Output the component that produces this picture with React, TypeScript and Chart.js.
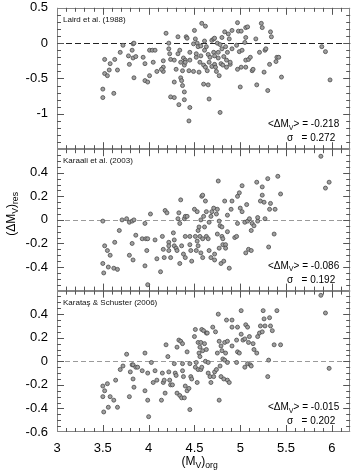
import React, { useEffect, useRef } from "react";
import { Chart, registerables } from "chart.js";

Chart.register(...registerables);

// ---- data: [Mv_org, dMv_res] ----
const lairdPoints: [number, number][] = [
  [3.50,-0.65],[3.50,-0.77],[3.62,-0.71],[3.52,-0.23],[3.58,-0.29],[3.63,-0.23],[3.52,-0.43],[3.55,-0.46],[3.57,-0.38],[3.66,-0.38],
  [3.69,-0.13],[3.72,-0.03],[3.78,-0.18],[3.79,-0.30],[3.82,-0.10],[3.83,-0.01],[3.84,0.00],[3.83,-0.21],[3.86,-0.19],[3.84,-0.49],
  [3.96,-0.29],[3.94,-0.20],[3.96,-0.53],[3.99,-0.55],[4.01,-0.46],[4.01,-0.10],[4.04,-0.10],[4.07,-0.10],[4.05,-0.27],[4.09,-0.40],
  [4.16,-0.25],[4.19,0.14],[4.16,-0.40],[4.16,-0.34],[4.14,-0.37],[4.22,0.00],[4.22,-0.08],[4.23,-0.15],[4.24,-0.23],[4.28,-0.24],
  [4.30,-0.37],[4.28,-0.55],[4.32,0.09],[4.32,-0.15],[4.34,-0.10],[4.35,-0.27],[4.35,-0.49],[4.36,-0.53],[4.37,-0.39],[4.38,-0.21],
  [4.40,-0.24],[4.41,0.09],[4.42,0.07],[4.39,-0.31],[4.40,-0.27],[4.24,-0.76],[4.28,-0.77],[4.33,-0.87],[4.39,-0.69],[4.39,-0.80],
  [4.37,-0.60],[4.44,-0.39],[4.45,-0.91],[4.44,-1.10],[4.45,-0.13],[4.45,-0.24],[4.50,0.18],[4.49,-0.01],[4.49,-0.40],[4.51,0.06],
  [4.52,-0.20],[4.52,-0.15],[4.53,0.00],[4.54,-0.05],[4.55,-0.41],[4.56,-0.27],[4.57,-0.18],[4.57,-0.04],[4.58,0.28],[4.60,-0.58],
  [4.60,-0.31],[4.61,0.03],[4.61,-0.10],[4.62,-0.34],[4.62,0.24],[4.63,-0.05],[4.64,-0.39],[4.65,-0.16],[4.65,-0.59],[4.66,-0.27],
  [4.66,-0.79],[4.67,-0.20],[4.69,0.04],[4.69,-0.33],[4.71,0.06],[4.71,-0.13],[4.72,0.07],[4.72,-0.18],[4.72,-0.30],[4.73,-0.34],
  [4.74,-0.40],[4.75,0.00],[4.76,-0.13],[4.76,-0.21],[4.77,-0.46],[4.78,-0.98],[4.78,-0.02],[4.79,-0.29],[4.80,0.08],[4.80,-0.08],
  [4.81,-0.31],[4.82,-0.19],[4.83,0.16],[4.84,-0.05],[4.85,-0.24],[4.85,-0.34],[4.86,-0.13],[4.87,0.13],[4.88,0.06],[4.89,-0.30],
  [4.89,-0.27],[4.91,0.18],[4.91,-0.08],[4.96,-0.03],[4.97,0.29],[4.97,-0.37],[4.98,0.17],[4.99,-0.12],[5.00,-0.62],[5.01,0.17],
  [5.01,-0.34],[5.02,-0.10],[5.05,0.01],[5.06,-0.34],[5.06,0.08],[5.06,0.22],[5.06,-0.24],[5.08,0.23],[5.09,-0.23],[5.11,-0.20],
  [5.13,-0.39],[5.14,-0.37],[5.17,0.06],[5.18,-0.59],[5.21,-0.13],[5.23,0.28],[5.24,0.22],[5.26,-0.41],[5.27,-0.10],[5.28,-0.08],
  [5.30,-0.67],[5.32,-0.30],[5.33,0.16],[5.34,0.09],[5.39,-0.26],[5.40,-0.20],[5.42,-0.20],[5.45,-0.48],[5.89,-0.05],[5.93,-0.12],
  [5.98,-0.52],
];

const karaaliPoints: [number, number][] = [
  [3.50,-0.01],[3.52,-0.22],[3.50,-0.37],[3.51,-0.45],[3.55,-0.26],[3.58,-0.30],[3.56,-0.40],[3.62,-0.41],[3.66,-0.42],[3.63,-0.19],
  [3.68,-0.09],[3.71,0.00],[3.76,0.01],[3.79,-0.02],[3.82,-0.01],[3.84,0.00],[3.79,-0.30],[3.82,-0.20],[3.83,-0.34],[3.86,-0.13],
  [3.93,-0.16],[3.96,-0.03],[3.96,-0.39],[3.97,-0.16],[3.99,-0.16],[3.98,-0.26],[3.99,-0.55],[4.02,0.05],[4.07,-0.17],[4.09,-0.33],
  [4.13,-0.44],[4.15,-0.14],[4.16,-0.25],[4.17,-0.32],[4.18,0.08],[4.20,0.06],[4.24,-0.32],[4.22,-0.19],[4.22,-0.22],[4.22,-0.26],
  [4.27,-0.11],[4.28,-0.17],[4.28,-0.22],[4.30,-0.24],[4.31,-0.26],[4.32,0.01],[4.33,0.06],[4.34,-0.03],[4.34,-0.37],[4.35,0.17],
  [4.36,-0.22],[4.38,-0.29],[4.39,0.01],[4.40,0.03],[4.40,-0.14],[4.40,-0.32],[4.42,0.03],[4.45,-0.21],[4.46,-0.26],[4.47,-0.35],
  [4.45,-0.14],[4.50,0.09],[4.51,-0.14],[4.52,-0.26],[4.53,-0.18],[4.53,0.07],[4.54,-0.09],[4.54,-0.22],[4.55,-0.06],[4.56,-0.14],
  [4.57,-0.28],[4.57,0.00],[4.58,0.20],[4.59,-0.16],[4.59,-0.32],[4.59,0.21],[4.60,0.03],[4.61,-0.06],[4.62,0.16],[4.63,-0.14],
  [4.63,0.07],[4.65,-0.16],[4.66,-0.02],[4.66,-0.26],[4.68,0.03],[4.68,-0.32],[4.69,0.07],[4.71,0.10],[4.72,-0.34],[4.72,-0.29],
  [4.74,0.05],[4.75,-0.12],[4.75,0.09],[4.76,0.33],[4.77,-0.01],[4.77,-0.24],[4.78,-0.05],[4.79,-0.37],[4.80,-0.14],[4.80,-0.06],
  [4.81,-0.21],[4.81,-0.16],[4.82,-0.35],[4.83,0.16],[4.84,-0.21],[4.84,-0.24],[4.86,0.04],[4.86,-0.10],[4.88,-0.41],[4.91,0.16],
  [4.90,0.09],[4.94,-0.15],[4.96,-0.14],[4.97,-0.03],[4.97,0.20],[4.99,0.23],[5.00,0.10],[5.02,0.29],[5.02,0.07],[5.05,-0.02],
  [5.06,-0.28],[5.07,0.13],[5.08,-0.01],[5.09,-0.25],[5.10,0.01],[5.12,-0.26],[5.12,-0.09],[5.13,-0.03],[5.15,-0.05],[5.18,0.32],
  [5.19,-0.01],[5.19,0.02],[5.22,0.16],[5.24,0.21],[5.24,0.28],[5.26,0.15],[5.27,0.01],[5.30,0.35],[5.31,-0.23],[5.32,0.09],
  [5.33,0.14],[5.37,-0.12],[5.38,0.09],[5.41,0.37],[5.44,0.22],[5.88,0.54],[5.93,0.27],[5.97,0.32],
];

const karatasPoints: [number, number][] = [
  [3.50,-0.21],[3.52,-0.25],[3.50,-0.30],[3.55,-0.19],[3.51,-0.43],[3.56,-0.39],[3.58,-0.30],[3.62,-0.33],[3.64,-0.16],[3.66,-0.39],
  [3.69,-0.07],[3.72,-0.04],[3.76,0.06],[3.79,-0.30],[3.80,-0.09],[3.82,-0.03],[3.83,-0.03],[3.83,-0.15],[3.84,-0.22],[3.86,-0.05],
  [3.88,-0.05],[3.93,-0.08],[3.96,0.07],[3.96,-0.25],[3.99,-0.10],[3.99,-0.33],[4.00,-0.47],[4.03,-0.01],[4.05,-0.18],[4.07,-0.08],
  [4.09,-0.16],[4.14,-0.33],[4.15,-0.10],[4.16,-0.18],[4.17,-0.16],[4.18,-0.27],[4.19,0.14],[4.21,0.04],[4.22,-0.09],[4.23,-0.16],
  [4.24,-0.20],[4.26,-0.20],[4.28,-0.02],[4.29,-0.10],[4.30,-0.12],[4.31,0.12],[4.31,-0.27],[4.33,0.18],[4.34,-0.29],[4.35,0.17],
  [4.36,-0.31],[4.37,0.15],[4.37,-0.02],[4.37,-0.08],[4.38,-0.13],[4.39,-0.31],[4.40,-0.21],[4.42,0.08],[4.42,-0.25],[4.44,-0.23],
  [4.45,-0.41],[4.45,-0.02],[4.46,-0.13],[4.47,-0.15],[4.50,0.21],[4.51,0.27],[4.51,-0.05],[4.52,-0.01],[4.53,-0.18],[4.54,0.16],
  [4.54,-0.07],[4.55,0.07],[4.56,0.12],[4.56,0.04],[4.57,-0.07],[4.57,0.16],[4.58,0.27],[4.58,-0.05],[4.59,0.09],[4.60,0.26],
  [4.61,0.15],[4.62,0.00],[4.63,0.24],[4.63,0.10],[4.64,0.24],[4.65,-0.10],[4.65,-0.01],[4.67,-0.13],[4.68,-0.18],[4.70,0.29],
  [4.71,-0.13],[4.72,-0.09],[4.73,0.25],[4.74,-0.07],[4.75,0.07],[4.76,0.40],[4.77,0.17],[4.77,-0.33],[4.78,-0.04],[4.79,0.13],
  [4.79,-0.13],[4.80,0.09],[4.81,0.02],[4.82,-0.15],[4.83,0.16],[4.83,0.01],[4.84,0.07],[4.85,0.35],[4.86,0.17],[4.86,-0.01],
  [4.86,-0.16],[4.88,-0.18],[4.91,0.35],[4.91,0.29],[4.91,0.13],[4.96,0.18],[4.96,-0.01],[4.97,0.29],[4.97,0.08],[4.99,0.07],
  [5.01,0.43],[5.01,0.23],[5.03,0.18],[5.05,0.19],[5.06,0.31],[5.08,0.29],[5.05,-0.05],[5.08,-0.02],[5.09,0.16],[5.10,0.21],
  [5.11,-0.03],[5.12,-0.04],[5.14,0.15],[5.15,0.10],[5.18,0.07],[5.19,0.21],[5.21,0.24],[5.22,0.30],[5.24,0.25],[5.25,0.43],
  [5.26,0.36],[5.27,0.30],[5.30,-0.13],[5.31,0.01],[5.32,0.37],[5.33,0.30],[5.35,0.26],[5.37,0.14],[5.40,0.43],[5.44,0.14],
  [5.88,0.56],[5.93,0.41],[5.97,-0.06],
];

const panelTitles = ["Laird et al. (1988)", "Karaali et al. (2003)", "Karataş & Schuster (2006)"];
const meanValues = ["-0.218", "-0.086", "-0.015"];
const sigmaValues = ["0.272", "0.192", "0.202"];
const panelRanges: [number, number][] = [[-1.5, 0.5], [-0.6, 0.6], [-0.6, 0.6]];
const panelSteps = [0.5, 0.2, 0.2];
const panelMinor = [0.1, 0.05, 0.05];
const xTickValues = [3, 3.5, 4, 4.5, 5, 5.5, 6];

const FONT = "'Liberation Sans', Arial, Helvetica, sans-serif";
const PANEL_IDS = ["y1", "y2", "y3"];

function fmt(v: number) {
  const r = Math.round(v * 100) / 100;
  return r === 0 ? "0" : String(r);
}

function drawSubText(ctx: CanvasRenderingContext2D, parts: { t: string; sub?: boolean }[], size: number, x: number, y: number, align: "left" | "right" | "center") {
  const subSize = size * 0.72;
  const widths = parts.map((p) => {
    ctx.font = `${p.sub ? subSize : size}px ${FONT}`;
    return ctx.measureText(p.t).width;
  });
  const total = widths.reduce((a, b) => a + b, 0);
  let cx = align === "left" ? x : align === "right" ? x - total : x - total / 2;
  ctx.textAlign = "left";
  ctx.textBaseline = "alphabetic";
  parts.forEach((p, i) => {
    ctx.font = `${p.sub ? subSize : size}px ${FONT}`;
    ctx.fillText(p.t, cx, p.sub ? y + size * 0.25 : y);
    cx += widths[i];
  });
}

const panelsPlugin = {
  id: "panelsPlugin",
  beforeDatasetsDraw(chart: any) {
    const { ctx, chartArea } = chart;
    const xs = chart.scales.x;
    const left = chartArea.left;
    const right = chartArea.right;
    PANEL_IDS.forEach((id, idx) => {
      const ys = chart.scales[id];
      const top = ys.top;
      const bottom = ys.bottom;
      ctx.save();
      // zero line
      const y0 = Math.round(ys.getPixelForValue(0)) + 0.5;
      ctx.strokeStyle = idx === 0 ? "#222" : "#9a9a9a";
      ctx.lineWidth = 1;
      ctx.setLineDash(idx === 0 ? [6, 3] : [5, 3]);
      ctx.beginPath();
      ctx.moveTo(left, y0);
      ctx.lineTo(right, y0);
      ctx.stroke();
      ctx.setLineDash([]);
      // frame
      ctx.strokeStyle = "#858585";
      ctx.beginPath();
      ctx.moveTo(Math.round(left) + 0.5, top);
      ctx.lineTo(Math.round(left) + 0.5, bottom);
      ctx.moveTo(Math.round(right) - 0.5, top);
      ctx.lineTo(Math.round(right) - 0.5, bottom);
      ctx.moveTo(left, Math.round(bottom) - 0.5);
      ctx.lineTo(right, Math.round(bottom) - 0.5);
      ctx.moveTo(left, Math.round(top) + 0.5);
      ctx.lineTo(right, Math.round(top) + 0.5);
      ctx.stroke();
      // x ticks (inward, bottom and top of each panel)
      ctx.strokeStyle = "#555";
      ctx.beginPath();
      for (let i = 30; i <= 62; i++) {
        const v = i / 10;
        const px = Math.round(xs.getPixelForValue(v)) + 0.5;
        if (px <= left + 1 || px >= right - 1) continue;
        const len = i % 5 === 0 ? 7 : 4;
        ctx.moveTo(px, bottom);
        ctx.lineTo(px, bottom - len);
        ctx.moveTo(px, top);
        ctx.lineTo(px, top + len);
      }
      // y ticks (inward, left and right)
      const [mn, mx] = panelRanges[idx];
      const minor = panelMinor[idx];
      const major = panelSteps[idx];
      const n = Math.round((mx - mn) / minor);
      for (let k = 1; k < n; k++) {
        const v = mn + k * minor;
        const py = Math.round(ys.getPixelForValue(v)) + 0.5;
        const isMajor = Math.abs(v / major - Math.round(v / major)) < 1e-6;
        const len = isMajor ? 7 : 4;
        ctx.moveTo(left, py);
        ctx.lineTo(left + len, py);
        ctx.moveTo(right, py);
        ctx.lineTo(right - len, py);
      }
      ctx.stroke();
      ctx.restore();
    });
  },
  afterDraw(chart: any) {
    const { ctx, chartArea } = chart;
    ctx.save();
    ctx.fillStyle = "#000";
    PANEL_IDS.forEach((id, idx) => {
      const ys = chart.scales[id];
      ctx.font = `8px ${FONT}`;
      ctx.textAlign = "left";
      ctx.textBaseline = "middle";
      ctx.fillStyle = "#111";
      ctx.fillText(panelTitles[idx], chartArea.left + 6, ys.top + 12);
      ctx.fillStyle = "#000";
      drawSubText(ctx, [{ t: "<\u0394M" }, { t: "V", sub: true }, { t: "> = " + meanValues[idx] }], 10, chartArea.right - 11, ys.bottom - 22, "right");
      drawSubText(ctx, [{ t: "\u03c3   = " + sigmaValues[idx] }], 10, chartArea.right - 15, ys.bottom - 8, "right");
    });
    // axis titles
    drawSubText(ctx, [{ t: "(M" }, { t: "V", sub: true }, { t: ")" }, { t: "org", sub: true }], 12, (chartArea.left + chartArea.right) / 2 - 4, 465, "center");
    ctx.save();
    ctx.translate(15, (chartArea.top + chartArea.bottom) / 2 - 6);
    ctx.rotate(-Math.PI / 2);
    drawSubText(ctx, [{ t: "(\u0394M" }, { t: "V", sub: true }, { t: ")" }, { t: "res", sub: true }], 12, 0, 0, "center");
    ctx.restore();
    ctx.restore();
  },
};

function makeYScale(idx: number) {
  const [mn, mx] = panelRanges[idx];
  return {
    type: "linear",
    position: "left",
    stack: "panels",
    stackWeight: 1,
    offset: false,
    min: mn,
    max: mx,
    border: { display: false },
    grid: { display: false, drawTicks: true, tickLength: 9 },
    ticks: {
      stepSize: panelSteps[idx],
      autoSkip: false,
      padding: 0,
      color: "#000",
      font: { family: FONT, size: 13 },
      callback: (v: number) => {
        if (Math.abs(v - mx) < 1e-6 && idx > 0) return "";
        if (Math.abs(v - mn) < 1e-6 && idx < 2) return "";
        return fmt(v);
      },
    },
    afterFit: (s: any) => {
      s.width = 57;
    },
  };
}

const pointStyle = {
  pointRadius: 2.0,
  pointBackgroundColor: "#a0a0a0",
  pointBorderColor: "#4a4a4a",
  pointBorderWidth: 0.8,
  showLine: false,
};

export default function App() {
  const ref = useRef<HTMLCanvasElement | null>(null);
  useEffect(() => {
    if (!ref.current) return;
    const chart = new Chart(ref.current, {
      type: "scatter",
      data: {
        datasets: [
          { label: panelTitles[0], data: lairdPoints.map(([x, y]) => ({ x, y })), yAxisID: "y1", ...pointStyle },
          { label: panelTitles[1], data: karaaliPoints.map(([x, y]) => ({ x, y })), yAxisID: "y2", ...pointStyle },
          { label: panelTitles[2], data: karatasPoints.map(([x, y]) => ({ x, y })), yAxisID: "y3", ...pointStyle },
        ],
      } as any,
      options: {
        responsive: false,
        animation: false,
        devicePixelRatio: 1,
        layout: { padding: { top: 0, right: 1, left: 0, bottom: 0 } },
        plugins: { legend: { display: false }, tooltip: { enabled: false } },
        scales: {
          x: {
            type: "linear",
            position: "bottom",
            min: 3,
            max: 6.2,
            border: { display: false },
            grid: { display: false, drawTicks: true, tickLength: 9 },
            ticks: {
              stepSize: 0.5,
              autoSkip: false,
              includeBounds: false,
              padding: 0,
              color: "#000",
              font: { family: FONT, size: 13 },
              maxRotation: 0,
              callback: (v: number) => (xTickValues.some((t) => Math.abs(t - v) < 1e-6) ? fmt(v) : ""),
            },
            afterFit: (s: any) => {
              s.height = 39;
            },
          },
          y3: makeYScale(2),
          y2: makeYScale(1),
          y1: makeYScale(0),
        } as any,
      },
      plugins: [panelsPlugin],
    });
    return () => chart.destroy();
  }, []);
  return (
    <div style={{ position: "absolute", left: 0, top: 0, width: 355, height: 471, background: "#fff" }}>
      <canvas ref={ref} width={355} height={471} style={{ display: "block" }} />
    </div>
  );
}
